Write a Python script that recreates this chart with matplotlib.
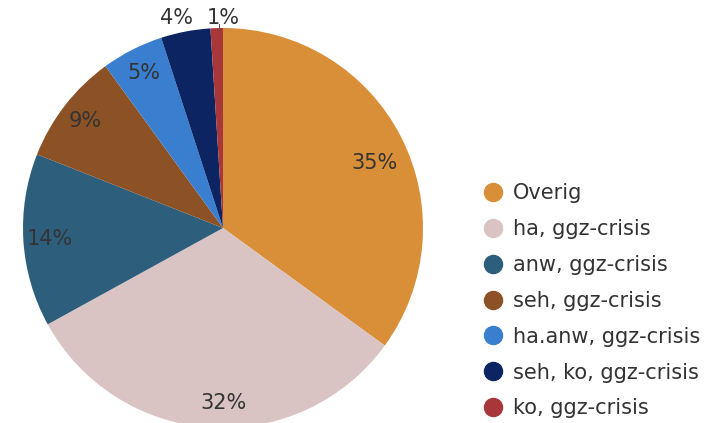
import numpy as np
import matplotlib; matplotlib.use("Agg")
import matplotlib.pyplot as plt
from matplotlib.lines import Line2D

labels = ["Overig", "ha, ggz-crisis", "anw, ggz-crisis", "seh, ggz-crisis",
          "ha.anw, ggz-crisis", "seh, ko, ggz-crisis", "ko, ggz-crisis"]
shares = [35, 32, 14, 9, 5, 4, 1]
colors = ["#D98F38", "#D9C4C3", "#2D5F7D", "#8C5226", "#3A7ECF", "#0C2461", "#A8373A"]

# label distance (fraction of radius) per slice
lab_dist = [0.83, 0.87, 0.87, 0.87, 0.87, 1.09, 1.07]

W, H = 705, 423
fig = plt.figure(figsize=(W / 100, H / 100), dpi=100)
cx, cy, r = 223, 228, 200
ax = fig.add_axes([(cx - r) / W, (H - cy - r) / H, 2 * r / W, 2 * r / H])

wedges, texts, autotexts = ax.pie(shares, colors=colors, startangle=90, counterclock=False,
                                  radius=1.0, autopct="%d%%", pctdistance=0.85,
                                  wedgeprops=dict(linewidth=0),
                                  textprops=dict(fontsize=15, color="#333333"))
for w, t, d in zip(wedges, autotexts, lab_dist):
    ang = np.deg2rad((w.theta1 + w.theta2) / 2)
    t.set_position((d * np.cos(ang), d * np.sin(ang)))
    t.set_clip_on(False)

# hand-placed labels, as in the original layout
autotexts[0].set_position((0.755, 0.325))
autotexts[1].set_position((0.0, -0.875))
autotexts[5].set_position((-0.235, 1.05))
autotexts[6].set_position((0.0, 1.05))
ax.plot([-0.02, -0.02], [0.99, 1.02], color="#555555", lw=0.8, clip_on=False)

ax.set_xlim(-1, 1); ax.set_ylim(-1, 1)
ax.set_aspect("equal"); ax.axis("off")

handles = [Line2D([0], [0], marker="o", linestyle="", markersize=13,
                  markerfacecolor=c, markeredgecolor=c) for c in colors]
fig.legend(handles, labels, loc="upper left", bbox_to_anchor=(472 / W, 1 - 175 / H),
           frameon=False, fontsize=15, labelcolor="#333333",
           handletextpad=0.36, labelspacing=0.76, handlelength=1.2, borderaxespad=0)

fig.savefig("out.png", dpi=100, facecolor="white")
